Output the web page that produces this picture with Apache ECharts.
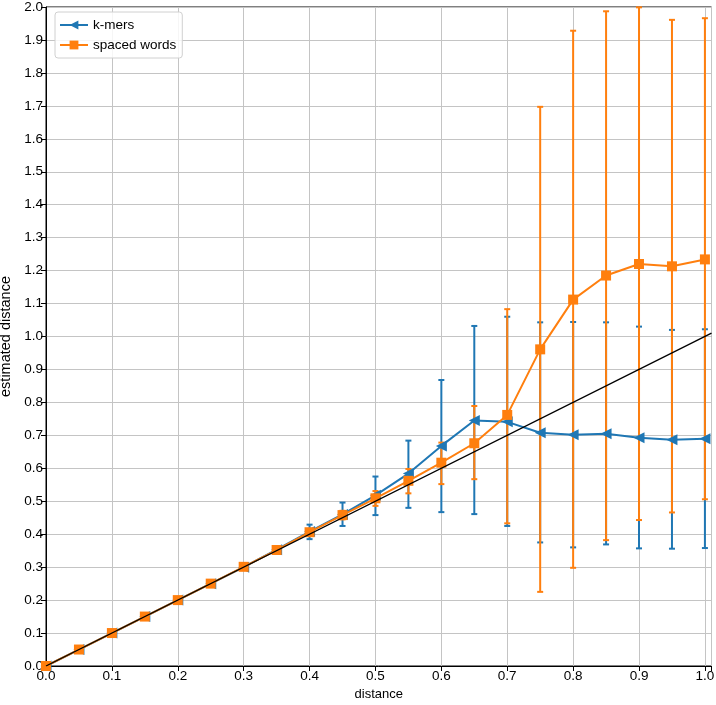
<!DOCTYPE html>
<html>
<head>
<meta charset="utf-8">
<script src="https://cdn.jsdelivr.net/npm/echarts@6/dist/echarts.min.js"></script>
<style>
  html, body { margin: 0; padding: 0; background: #fff; }
  #chart { width: 716px; height: 705px; }
</style>
</head>
<body>
<div id="chart"></div>
<script>
// x positions (true distance)
const distances = [0, 0.05, 0.1, 0.15, 0.2, 0.25, 0.3, 0.35, 0.4, 0.45, 0.5,
  0.55, 0.6, 0.65, 0.7, 0.75, 0.8, 0.85, 0.9, 0.95, 1.0]

// k-mers: mean, lower and upper end of error bar
const kmerMean = [0, 0.05, 0.1, 0.15, 0.2, 0.25, 0.3, 0.353, 0.408, 0.46, 0.518,
  0.584, 0.668, 0.745, 0.741, 0.708, 0.702, 0.705, 0.693, 0.687, 0.69]
const kmerLow = [0, 0.05, 0.1, 0.15, 0.2, 0.25, 0.297, 0.345, 0.385, 0.425, 0.458,
  0.48, 0.467, 0.461, 0.425, 0.375, 0.36, 0.369, 0.357, 0.356, 0.358]
const kmerHigh = [0, 0.05, 0.1, 0.15, 0.2, 0.25, 0.303, 0.361, 0.429, 0.496, 0.575,
  0.684, 0.868, 1.032, 1.06, 1.043, 1.044, 1.043, 1.03, 1.02, 1.022]

// spaced words
const spacedMean = [0, 0.05, 0.1, 0.15, 0.2, 0.25, 0.301, 0.352, 0.406, 0.458, 0.509,
  0.562, 0.617, 0.676, 0.762, 0.961, 1.112, 1.185, 1.22, 1.213, 1.234]
const spacedLow = [0, 0.05, 0.1, 0.15, 0.2, 0.25, 0.299, 0.349, 0.398, 0.445, 0.486,
  0.524, 0.552, 0.567, 0.433, 0.225, 0.298, 0.382, 0.443, 0.466, 0.506]
const spacedHigh = [0, 0.05, 0.1, 0.15, 0.2, 0.25, 0.303, 0.356, 0.414, 0.471, 0.531,
  0.598, 0.678, 0.789, 1.083, 1.697, 1.928, 1.987, 1.999, 1.961, 1.966]

// reference line y = x
const diagX = [0, 1.01]

const BLUE = '#1f77b4'
const ORANGE = '#ff7f0e'
const FONT = 'Liberation Sans'

const chart = echarts.init(document.getElementById('chart'))

function pairs(ys) {
  return distances.map((x, i) => [x, ys[i]])
}
function errData(lo, hi) {
  return distances.map((x, i) => [x, lo[i], hi[i]])
}
function errRender(color) {
  return function (params, api) {
    const top = api.coord([api.value(0), api.value(2)])
    const bot = api.coord([api.value(0), api.value(1)])
    const cap = 3
    const style = { stroke: color, lineWidth: 2 }
    return {
      type: 'group',
      children: [
        { type: 'line', shape: { x1: top[0], y1: top[1], x2: bot[0], y2: bot[1] }, style: style },
        { type: 'line', shape: { x1: top[0] - cap, y1: top[1], x2: top[0] + cap, y2: top[1] }, style: style },
        { type: 'line', shape: { x1: bot[0] - cap, y1: bot[1], x2: bot[0] + cap, y2: bot[1] }, style: style }
      ]
    }
  }
}

const leftTri = 'path://M0,5 L10,0 L10,10 Z'

chart.setOption({
  animation: false,
  textStyle: { fontFamily: FONT },
  grid: {
    left: 46, top: 7, right: 4.5, bottom: 39,
    outerBoundsMode: 'none', containLabel: false,
    show: true, borderColor: '#000', borderWidth: 1, backgroundColor: 'transparent'
  },
  legend: {
    left: 55, top: 12, orient: 'vertical',
    itemWidth: 28, itemHeight: 11, itemGap: 6,
    padding: [6, 6, 6, 4],
    backgroundColor: 'rgba(255,255,255,0.85)',
    borderColor: '#d0d0d0', borderWidth: 1, borderRadius: 3,
    textStyle: { fontFamily: FONT, fontSize: 13.5, color: '#000' },
    data: ['k-mers', 'spaced words']
  },
  xAxis: {
    type: 'value', min: 0, max: 1.01, interval: 0.1,
    name: 'distance', nameLocation: 'middle', nameGap: 18,
    nameTextStyle: { fontFamily: FONT, fontSize: 13, color: '#000' },
    axisLine: { lineStyle: { color: '#000' } },
    axisTick: { show: true, length: 5, lineStyle: { color: '#000' } },
    axisLabel: {
      fontFamily: FONT, fontSize: 13.5, color: '#000', margin: 3,
      formatter: v => Math.abs(v * 10 - Math.round(v * 10)) < 1e-6 ? v.toFixed(1) : ''
    },
    splitLine: { show: true, lineStyle: { color: '#c4c4c4', width: 1 } }
  },
  yAxis: {
    type: 'value', min: 0, max: 2.0, interval: 0.1,
    name: 'estimated distance', nameLocation: 'middle', nameGap: 32,
    nameTextStyle: { fontFamily: FONT, fontSize: 14.5, color: '#000' },
    axisLine: { show: true, lineStyle: { color: '#000' } },
    axisTick: { show: true, length: 5, lineStyle: { color: '#000' } },
    axisLabel: {
      fontFamily: FONT, fontSize: 13.5, color: '#000', margin: 3,
      formatter: v => v.toFixed(1)
    },
    splitLine: { show: true, lineStyle: { color: '#c4c4c4', width: 1 } }
  },
  series: [
    {
      name: 'k-mers err', type: 'custom', z: 2,
      renderItem: errRender(BLUE),
      data: errData(kmerLow, kmerHigh),
      encode: { x: 0, y: [1, 2] }
    },
    {
      name: 'spaced words err', type: 'custom', z: 2,
      renderItem: errRender(ORANGE),
      data: errData(spacedLow, spacedHigh),
      encode: { x: 0, y: [1, 2] }
    },
    {
      name: 'k-mers', type: 'line', z: 3,
      data: pairs(kmerMean),
      symbol: leftTri, symbolSize: 11, showAllSymbol: true,
      lineStyle: { color: BLUE, width: 2 },
      itemStyle: { color: BLUE }
    },
    {
      name: 'spaced words', type: 'line', z: 4,
      data: pairs(spacedMean),
      symbol: 'rect', symbolSize: 10, showAllSymbol: true,
      lineStyle: { color: ORANGE, width: 2 },
      itemStyle: { color: ORANGE }
    },
    {
      name: 'y=x', type: 'line', z: 5,
      data: diagX.map(v => [v, v]),
      symbol: 'none', silent: true,
      lineStyle: { color: '#000', width: 1.3 }
    }
  ]
})
</script>
</body>
</html>
